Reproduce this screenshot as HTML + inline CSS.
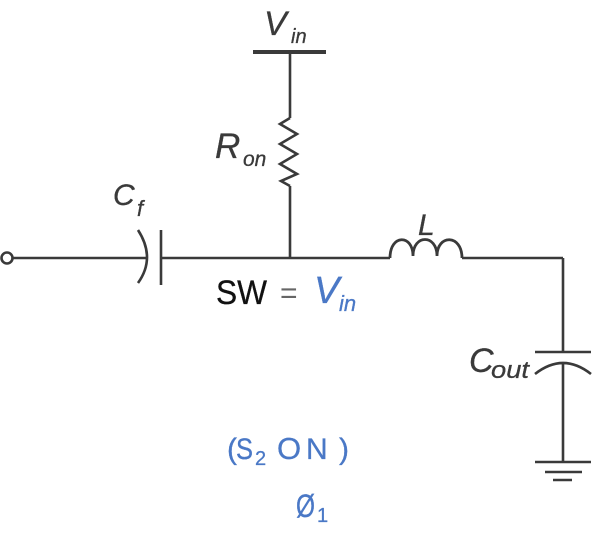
<!DOCTYPE html>
<html>
<head>
<meta charset="utf-8">
<style>
  html,body{margin:0;padding:0;background:#fff;}
  svg{display:block;}
  .lbl{font-family:"Liberation Sans",sans-serif;font-style:italic;fill:#3a3a3a;stroke:#3a3a3a;stroke-width:0.3;}
  .blue{font-family:"Liberation Sans",sans-serif;fill:#4a78c6;stroke:#4a78c6;stroke-width:0.3;}
</style>
</head>
<body>
<svg width="602" height="539" viewBox="0 0 602 539" xmlns="http://www.w3.org/2000/svg">
  <g stroke="#3a3a3a" stroke-width="2.6" fill="none" stroke-linecap="butt">
    <!-- Vin bar -->
    <line x1="253" y1="52" x2="326" y2="52" stroke-width="4"/>
    <!-- vertical to resistor -->
    <line x1="290" y1="52" x2="290" y2="118"/>
    <!-- resistor zigzag -->
    <polyline points="290,118 280,124 297,134 280,144 297,154 280,164 297,174 281,181 290,186" stroke-linejoin="miter"/>
    <line x1="290" y1="186" x2="290" y2="258"/>
    <!-- left terminal -->
    <circle cx="7" cy="258" r="5.5"/>
    <line x1="13" y1="258" x2="146" y2="258"/>
    <!-- Cf curved plate -->
    <path d="M138,230 Q156,258 138,283"/>
    <!-- Cf straight plate -->
    <line x1="161" y1="230" x2="161" y2="285"/>
    <line x1="161" y1="258" x2="390" y2="258"/>
    <!-- inductor -->
    <path d="M390,258 C390,234 413,234 413,256 C413,234 437,234 437,256 C437,234 462,234 462,258" stroke-width="2.8"/>
    <line x1="462" y1="258" x2="563" y2="258"/>
    <line x1="563" y1="258" x2="563" y2="352"/>
    <!-- Cout plates -->
    <line x1="535" y1="352" x2="591" y2="352"/>
    <path d="M535,374 Q563,352 591,374"/>
    <line x1="563" y1="363" x2="563" y2="462"/>
    <!-- ground -->
    <line x1="535" y1="462" x2="591" y2="462"/>
    <line x1="545" y1="472" x2="582" y2="472"/>
    <line x1="553" y1="480" x2="572" y2="480"/>
  </g>

  <!-- labels -->
  <text class="lbl" x="264" y="35" font-size="34">V</text>
  <text class="lbl" x="291" y="43" font-size="20">in</text>

  <text class="lbl" x="215" y="158" font-size="35">R</text>
  <text class="lbl" x="243" y="166" font-size="21">on</text>

  <text class="lbl" x="113" y="205" font-size="30">C</text>
  <text class="lbl" x="137" y="216" font-size="22">f</text>

  <text class="lbl" x="418" y="235" font-size="30">L</text>

  <text class="lbl" x="469" y="372" font-size="34">C</text>
  <text class="lbl" x="491" y="378" font-size="24" textLength="38" lengthAdjust="spacingAndGlyphs">out</text>

  <!-- SW = Vin -->
  <text x="216" y="304" font-family="Liberation Sans, sans-serif" font-size="34" fill="#111" stroke="#111" stroke-width="0.3" textLength="51" lengthAdjust="spacingAndGlyphs">SW</text>
  <text x="280" y="303" font-family="Liberation Sans, sans-serif" font-size="30" fill="#666">=</text>
  <text class="blue" x="314" y="303" font-size="38" font-style="italic">V</text>
  <text class="blue" x="339" y="311" font-size="22" font-style="italic">in</text>

  <!-- (S2 ON) -->
  <text class="blue" x="227" y="459" font-size="30">(</text>
  <text class="blue" x="236" y="459" font-size="30" textLength="17" lengthAdjust="spacingAndGlyphs">S</text>
  <text class="blue" x="255" y="465" font-size="20">2</text>
  <text class="blue" x="277" y="459" font-size="31">O</text>
  <text class="blue" x="306" y="459" font-size="30">N</text>
  <text class="blue" x="339" y="459" font-size="30">)</text>

  <!-- Ø1 -->
  <text class="blue" x="296" y="517" font-size="32" textLength="19" lengthAdjust="spacingAndGlyphs">Ø</text>
  <text class="blue" x="317" y="522" font-size="20">1</text>
</svg>
</body>
</html>
